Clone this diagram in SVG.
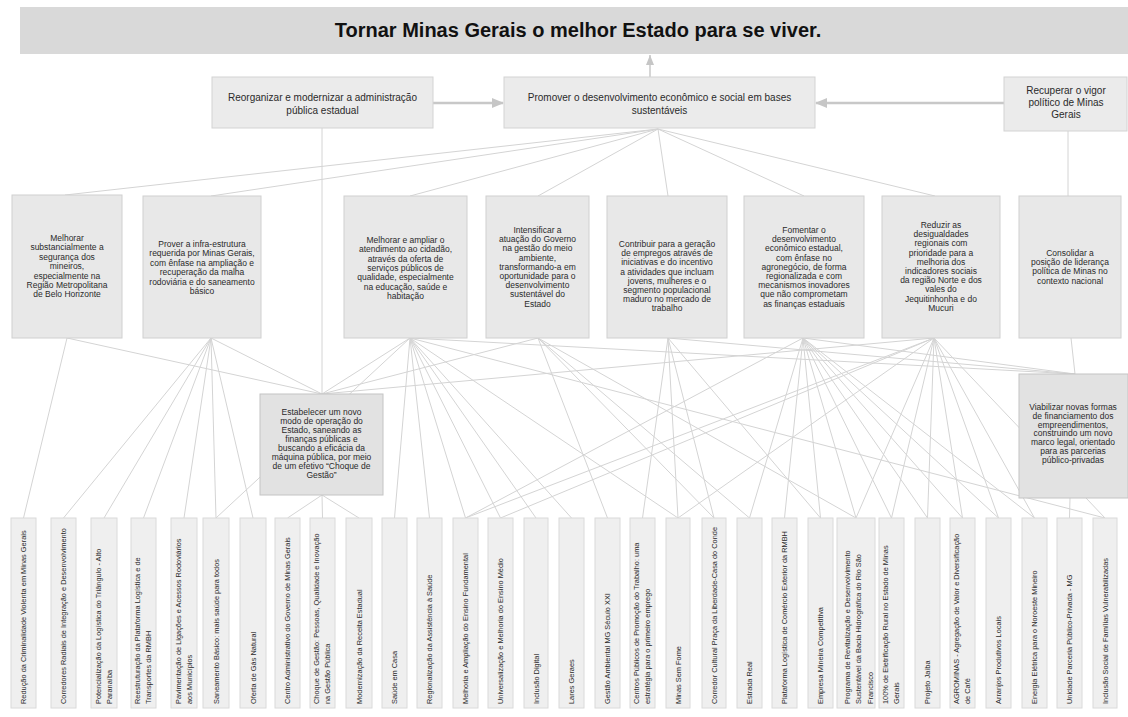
<svg xmlns="http://www.w3.org/2000/svg" width="1128" height="717" viewBox="0 0 1128 717">
<style>
text{font-family:"Liberation Sans",Arial,sans-serif;fill:#2a2a2a}
.t{font-size:8.5px;text-anchor:middle}
.t2{font-size:10px;text-anchor:middle}
.b{font-size:7.4px}
.r2{fill:#ebebeb;stroke:#d3d3d3;stroke-width:1}
.l3{fill:#e8e8e8;stroke:#d0d0d0;stroke-width:1}
.mid{fill:#e2e2e2;stroke:#c4c4c4;stroke-width:1}
.bot{fill:#efefef;stroke:#dadada;stroke-width:1}
.c line{stroke:#d4d4d4;stroke-width:1;fill:none}
</style>
<defs>
<marker id="ah" markerUnits="userSpaceOnUse" markerWidth="12" markerHeight="10" refX="11" refY="5" orient="auto"><path d="M0,0 L12,5 L0,10 z" fill="#c6c6c6"/></marker>
<marker id="ahs" markerUnits="userSpaceOnUse" markerWidth="10" markerHeight="8" refX="10" refY="4" orient="auto"><path d="M0,0 L10,4 L0,8 z" fill="#c6c6c6"/></marker>
</defs>
<rect width="1128" height="717" fill="#ffffff"/>

<g id="connectors" class="c">
<line x1="658" y1="129" x2="65" y2="195"/>
<line x1="658" y1="129" x2="211" y2="196"/>
<line x1="658" y1="129" x2="410" y2="196"/>
<line x1="658" y1="129" x2="538" y2="196"/>
<line x1="658" y1="129" x2="668" y2="196"/>
<line x1="658" y1="129" x2="804" y2="196"/>
<line x1="658" y1="129" x2="935" y2="196"/>
<line x1="1068" y1="131" x2="1068" y2="196"/>
<line x1="322" y1="128" x2="322" y2="394"/>
<line x1="67" y1="338" x2="23.5" y2="518"/>
<line x1="67" y1="338" x2="322" y2="394"/>
<line x1="211" y1="338" x2="63.5" y2="518"/>
<line x1="211" y1="338" x2="104" y2="518"/>
<line x1="211" y1="338" x2="143.5" y2="518"/>
<line x1="211" y1="338" x2="184" y2="518"/>
<line x1="211" y1="338" x2="216" y2="518"/>
<line x1="211" y1="338" x2="253" y2="518"/>
<line x1="211" y1="338" x2="322" y2="394"/>
<line x1="410" y1="338" x2="322" y2="394"/>
<line x1="410" y1="338" x2="216" y2="518"/>
<line x1="410" y1="338" x2="394.5" y2="518"/>
<line x1="410" y1="338" x2="429.5" y2="518"/>
<line x1="410" y1="338" x2="465.5" y2="518"/>
<line x1="410" y1="338" x2="500.5" y2="518"/>
<line x1="410" y1="338" x2="536" y2="518"/>
<line x1="410" y1="338" x2="571.5" y2="518"/>
<line x1="410" y1="338" x2="678" y2="518"/>
<line x1="410" y1="338" x2="1105" y2="518"/>
<line x1="410" y1="338" x2="1075" y2="374"/>
<line x1="538" y1="338" x2="322" y2="394"/>
<line x1="538" y1="338" x2="607.5" y2="518"/>
<line x1="538" y1="338" x2="714" y2="518"/>
<line x1="538" y1="338" x2="749.5" y2="518"/>
<line x1="538" y1="338" x2="856" y2="518"/>
<line x1="668" y1="338" x2="642.5" y2="518"/>
<line x1="668" y1="338" x2="678" y2="518"/>
<line x1="668" y1="338" x2="714" y2="518"/>
<line x1="668" y1="338" x2="820.5" y2="518"/>
<line x1="668" y1="338" x2="1075" y2="374"/>
<line x1="803" y1="338" x2="465.5" y2="518"/>
<line x1="803" y1="338" x2="749.5" y2="518"/>
<line x1="803" y1="338" x2="784.5" y2="518"/>
<line x1="803" y1="338" x2="820.5" y2="518"/>
<line x1="803" y1="338" x2="856" y2="518"/>
<line x1="803" y1="338" x2="891.5" y2="518"/>
<line x1="803" y1="338" x2="927.5" y2="518"/>
<line x1="803" y1="338" x2="962.5" y2="518"/>
<line x1="803" y1="338" x2="998.5" y2="518"/>
<line x1="803" y1="338" x2="1034.5" y2="518"/>
<line x1="803" y1="338" x2="1075" y2="374"/>
<line x1="934" y1="338" x2="322" y2="394"/>
<line x1="934" y1="338" x2="465.5" y2="518"/>
<line x1="934" y1="338" x2="500.5" y2="518"/>
<line x1="934" y1="338" x2="678" y2="518"/>
<line x1="934" y1="338" x2="856" y2="518"/>
<line x1="934" y1="338" x2="891.5" y2="518"/>
<line x1="934" y1="338" x2="927.5" y2="518"/>
<line x1="934" y1="338" x2="962.5" y2="518"/>
<line x1="934" y1="338" x2="998.5" y2="518"/>
<line x1="934" y1="338" x2="1034.5" y2="518"/>
<line x1="934" y1="338" x2="1105" y2="518"/>
<line x1="1071" y1="338" x2="1075" y2="374"/>
<line x1="1070" y1="498" x2="1069.5" y2="518"/>
<line x1="322" y1="495" x2="287.5" y2="518"/>
<line x1="322" y1="495" x2="322.5" y2="518"/>
<line x1="322" y1="495" x2="359" y2="518"/>
<line x1="433" y1="103" x2="503" y2="103" style="stroke:#c8c8c8;stroke-width:2.5" marker-end="url(#ah)"/>
<line x1="1004" y1="103" x2="816" y2="103" style="stroke:#c8c8c8;stroke-width:2.5" marker-end="url(#ah)"/>
<line x1="650" y1="77" x2="650" y2="55" style="stroke:#c8c8c8;stroke-width:1.5" marker-end="url(#ahs)"/>
</g>

<g id="vision">
<rect x="20" y="7" width="1108" height="47" fill="#d9d9d9"/>
<text x="578" y="37" style="font-size:20px;font-weight:bold;text-anchor:middle;fill:#111">Tornar Minas Gerais o melhor Estado para se viver.</text>
</g>

<g id="reorganizar">
<rect class="r2" x="212" y="77" width="221" height="51"/>
<text class="t2" x="322.5" y="100.5"><tspan x="322.5">Reorganizar e modernizar a administração</tspan><tspan x="322.5" dy="13">pública estadual</tspan></text>
</g>
<g id="promover">
<rect class="r2" x="504" y="77" width="311" height="51"/>
<text class="t2" x="659.5" y="100.5"><tspan x="659.5">Promover o desenvolvimento econômico e social em bases</tspan><tspan x="659.5" dy="13">sustentáveis</tspan></text>
</g>
<g id="recuperar">
<rect class="r2" x="1004" y="77" width="123" height="54"/>
<text class="t2" x="1066" y="93.5"><tspan x="1066">Recuperar o vigor</tspan><tspan x="1066" dy="12">político de Minas</tspan><tspan x="1066" dy="12">Gerais</tspan></text>
</g>

<g id="obj1">
<rect class="l3" x="12" y="195" width="110" height="143"/>
<text class="t" y="241"><tspan x="67">Melhorar</tspan><tspan x="67" dy="9.4">substancialmente a</tspan><tspan x="67" dy="9.4">segurança dos</tspan><tspan x="67" dy="9.4">mineiros,</tspan><tspan x="67" dy="9.4">especialmente na</tspan><tspan x="67" dy="9.4">Região Metropolitana</tspan><tspan x="67" dy="9.4">de Belo Horizonte</tspan></text>
</g>
<g id="obj2">
<rect class="l3" x="143" y="196" width="118" height="142"/>
<text class="t" y="247"><tspan x="202">Prover a infra-estrutura</tspan><tspan x="202" dy="9.4">requerida por Minas Gerais,</tspan><tspan x="202" dy="9.4">com ênfase na ampliação e</tspan><tspan x="202" dy="9.4">recuperação da malha</tspan><tspan x="202" dy="9.4">rodoviária e do saneamento</tspan><tspan x="202" dy="9.4">básico</tspan></text>
</g>
<g id="obj3">
<rect class="l3" x="344" y="196" width="123" height="142"/>
<text class="t" y="243"><tspan x="405.5">Melhorar e ampliar o</tspan><tspan x="405.5" dy="9.3">atendimento ao cidadão,</tspan><tspan x="405.5" dy="9.3">através da oferta de</tspan><tspan x="405.5" dy="9.3">serviços públicos de</tspan><tspan x="405.5" dy="9.3">qualidade, especialmente</tspan><tspan x="405.5" dy="9.3">na educação, saúde e</tspan><tspan x="405.5" dy="9.3">habitação</tspan></text>
</g>
<g id="obj4">
<rect class="l3" x="486" y="196" width="103" height="142"/>
<text class="t" y="233"><tspan x="537.5">Intensificar a</tspan><tspan x="537.5" dy="9.2">atuação do Governo</tspan><tspan x="537.5" dy="9.2">na gestão do meio</tspan><tspan x="537.5" dy="9.2">ambiente,</tspan><tspan x="537.5" dy="9.2">transformando-a em</tspan><tspan x="537.5" dy="9.2">oportunidade para o</tspan><tspan x="537.5" dy="9.2">desenvolvimento</tspan><tspan x="537.5" dy="9.2">sustentável do</tspan><tspan x="537.5" dy="9.2">Estado</tspan></text>
</g>
<g id="obj5">
<rect class="l3" x="607" y="196" width="120" height="142"/>
<text class="t" y="247"><tspan x="667">Contribuir para a geração</tspan><tspan x="667" dy="9.2">de empregos através de</tspan><tspan x="667" dy="9.2">iniciativas e do incentivo</tspan><tspan x="667" dy="9.2">a atividades que incluam</tspan><tspan x="667" dy="9.2">jovens, mulheres e o</tspan><tspan x="667" dy="9.2">segmento populacional</tspan><tspan x="667" dy="9.2">maduro no mercado de</tspan><tspan x="667" dy="9.2">trabalho</tspan></text>
</g>
<g id="obj6">
<rect class="l3" x="744" y="196" width="120" height="142"/>
<text class="t" y="233"><tspan x="804">Fomentar o</tspan><tspan x="804" dy="9.2">desenvolvimento</tspan><tspan x="804" dy="9.2">econômico estadual,</tspan><tspan x="804" dy="9.2">com ênfase no</tspan><tspan x="804" dy="9.2">agronegócio, de forma</tspan><tspan x="804" dy="9.2">regionalizada e com</tspan><tspan x="804" dy="9.2">mecanismos inovadores</tspan><tspan x="804" dy="9.2">que não comprometam</tspan><tspan x="804" dy="9.2">as finanças estaduais</tspan></text>
</g>
<g id="obj7">
<rect class="l3" x="882" y="196" width="118" height="142"/>
<text class="t" y="228"><tspan x="941">Reduzir as</tspan><tspan x="941" dy="9.2">desigualdades</tspan><tspan x="941" dy="9.2">regionais com</tspan><tspan x="941" dy="9.2">prioridade para a</tspan><tspan x="941" dy="9.2">melhoria dos</tspan><tspan x="941" dy="9.2">indicadores sociais</tspan><tspan x="941" dy="9.2">da região Norte e dos</tspan><tspan x="941" dy="9.2">vales do</tspan><tspan x="941" dy="9.2">Jequitinhonha e do</tspan><tspan x="941" dy="9.2">Mucuri</tspan></text>
</g>
<g id="obj8">
<rect class="l3" x="1019" y="196" width="102" height="142"/>
<text class="t" y="256"><tspan x="1070">Consolidar a</tspan><tspan x="1070" dy="9.2">posição de liderança</tspan><tspan x="1070" dy="9.2">política de Minas no</tspan><tspan x="1070" dy="9.2">contexto nacional</tspan></text>
</g>

<g id="estabelecer">
<rect class="mid" x="260" y="394" width="123" height="101"/>
<text class="t" y="415"><tspan x="321.5">Estabelecer um novo</tspan><tspan x="321.5" dy="9">modo de operação do</tspan><tspan x="321.5" dy="9">Estado, saneando as</tspan><tspan x="321.5" dy="9">finanças públicas e</tspan><tspan x="321.5" dy="9">buscando a eficácia da</tspan><tspan x="321.5" dy="9">máquina pública, por meio</tspan><tspan x="321.5" dy="9">de um efetivo “Choque de</tspan><tspan x="321.5" dy="9">Gestão”</tspan></text>
</g>
<g id="viabilizar">
<rect class="mid" x="1019" y="374" width="109" height="124"/>
<text class="t" y="410"><tspan x="1073">Viabilizar novas formas</tspan><tspan x="1073" dy="8.8">de financiamento dos</tspan><tspan x="1073" dy="8.8">empreendimentos,</tspan><tspan x="1073" dy="8.8">construindo um novo</tspan><tspan x="1073" dy="8.8">marco legal, orientado</tspan><tspan x="1073" dy="8.8">para as parcerias</tspan><tspan x="1073" dy="8.8">público-privadas</tspan></text>
</g>

<g id="p1"><rect class="bot" x="11" y="518" width="25" height="190"/><text class="b" transform="translate(26.1,704) rotate(-90)">Redução da Criminalidade Violenta em Minas Gerais</text></g>
<g id="p2"><rect class="bot" x="51" y="518" width="25" height="190"/><text class="b" transform="translate(66.1,704) rotate(-90)">Corredores Radiais de Integração e Desenvolvimento</text></g>
<g id="p3"><rect class="bot" x="91" y="518" width="26" height="190"/><text class="b" transform="translate(100.5,704) rotate(-90)"><tspan x="0">Potencialização da Logística do Triângulo - Alto</tspan><tspan x="0" dy="11">Paranaíba</tspan></text></g>
<g id="p4"><rect class="bot" x="131" y="518" width="25" height="190"/><text class="b" transform="translate(140,704) rotate(-90)"><tspan x="0">Reestruturação da Plataforma Logística e de</tspan><tspan x="0" dy="11">Transportes da RMBH</tspan></text></g>
<g id="p5"><rect class="bot" x="171" y="518" width="26" height="190"/><text class="b" transform="translate(180.5,704) rotate(-90)"><tspan x="0">Pavimentação de Ligações e Acessos Rodoviários</tspan><tspan x="0" dy="11">aos Municípios</tspan></text></g>
<g id="p6"><rect class="bot" x="203" y="518" width="26" height="190"/><text class="b" transform="translate(218.6,704) rotate(-90)">Saneamento Básico: mais saúde para todos</text></g>
<g id="p7"><rect class="bot" x="240" y="518" width="26" height="190"/><text class="b" transform="translate(255.6,704) rotate(-90)">Oferta de Gás Natural</text></g>
<g id="p8"><rect class="bot" x="275" y="518" width="25" height="190"/><text class="b" transform="translate(290.1,704) rotate(-90)">Centro Administrativo do Governo de Minas Gerais</text></g>
<g id="p9"><rect class="bot" x="310" y="518" width="25" height="190"/><text class="b" transform="translate(319,704) rotate(-90)"><tspan x="0">Choque de Gestão: Pessoas, Qualidade e Inovação</tspan><tspan x="0" dy="11">na Gestão Pública</tspan></text></g>
<g id="p10"><rect class="bot" x="346" y="518" width="26" height="190"/><text class="b" transform="translate(361.6,704) rotate(-90)">Modernização da Receita Estadual</text></g>
<g id="p11"><rect class="bot" x="382" y="518" width="25" height="190"/><text class="b" transform="translate(397.1,704) rotate(-90)">Saúde em Casa</text></g>
<g id="p12"><rect class="bot" x="417" y="518" width="25" height="190"/><text class="b" transform="translate(432.1,704) rotate(-90)">Regionalização da Assistência à Saúde</text></g>
<g id="p13"><rect class="bot" x="453" y="518" width="25" height="190"/><text class="b" transform="translate(468.1,704) rotate(-90)">Melhoria e Ampliação do Ensino Fundamental</text></g>
<g id="p14"><rect class="bot" x="488" y="518" width="25" height="190"/><text class="b" transform="translate(503.1,704) rotate(-90)">Universalização e Melhoria do Ensino Médio</text></g>
<g id="p15"><rect class="bot" x="524" y="518" width="24" height="190"/><text class="b" transform="translate(538.6,704) rotate(-90)">Inclusão Digital</text></g>
<g id="p16"><rect class="bot" x="559" y="518" width="25" height="190"/><text class="b" transform="translate(574.1,704) rotate(-90)">Lares Geraes</text></g>
<g id="p17"><rect class="bot" x="595" y="518" width="25" height="190"/><text class="b" transform="translate(610.1,704) rotate(-90)">Gestão Ambiental MG Século XXI</text></g>
<g id="p18"><rect class="bot" x="630" y="518" width="25" height="190"/><text class="b" transform="translate(639,704) rotate(-90)"><tspan x="0">Centros Públicos de Promoção do Trabalho: uma</tspan><tspan x="0" dy="11">estratégia para o primeiro emprego</tspan></text></g>
<g id="p19"><rect class="bot" x="666" y="518" width="24" height="190"/><text class="b" transform="translate(680.6,704) rotate(-90)">Minas Sem Fome</text></g>
<g id="p20"><rect class="bot" x="702" y="518" width="24" height="190"/><text class="b" transform="translate(716.6,704) rotate(-90)">Corredor Cultural Praça da Liberdade-Casa do Conde</text></g>
<g id="p21"><rect class="bot" x="737" y="518" width="25" height="190"/><text class="b" transform="translate(752.1,704) rotate(-90)">Estrada Real</text></g>
<g id="p22"><rect class="bot" x="772" y="518" width="25" height="190"/><text class="b" transform="translate(787.1,704) rotate(-90)">Plataforma Logística de Comércio Exterior da RMBH</text></g>
<g id="p23"><rect class="bot" x="808" y="518" width="25" height="190"/><text class="b" transform="translate(823.1,704) rotate(-90)">Empresa Mineira Competitiva</text></g>
<g id="p24"><rect class="bot" x="837" y="518" width="38" height="190"/><text class="b" transform="translate(849.6,704) rotate(-90)"><tspan x="0">Programa de Revitalização e Desenvolvimento</tspan><tspan x="0" dy="11.5">Sustentável da Bacia Hidrográfica do Rio São</tspan><tspan x="0" dy="11.5">Francisco</tspan></text></g>
<g id="p25"><rect class="bot" x="879" y="518" width="25" height="190"/><text class="b" transform="translate(888,704) rotate(-90)"><tspan x="0">100% de Eletrificação Rural no Estado de Minas</tspan><tspan x="0" dy="11">Gerais</tspan></text></g>
<g id="p26"><rect class="bot" x="915" y="518" width="25" height="190"/><text class="b" transform="translate(930.1,704) rotate(-90)">Projeto Jaíba</text></g>
<g id="p27"><rect class="bot" x="950" y="518" width="25" height="190"/><text class="b" transform="translate(959,704) rotate(-90)"><tspan x="0">AGROMINAS - Agregação de Valor e Diversificação</tspan><tspan x="0" dy="11">de Café</tspan></text></g>
<g id="p28"><rect class="bot" x="986" y="518" width="25" height="190"/><text class="b" transform="translate(1001.1,704) rotate(-90)">Arranjos Produtivos Locais</text></g>
<g id="p29"><rect class="bot" x="1022" y="518" width="25" height="190"/><text class="b" transform="translate(1037.1,704) rotate(-90)">Energia Elétrica para o Noroeste Mineiro</text></g>
<g id="p30"><rect class="bot" x="1057" y="518" width="25" height="190"/><text class="b" transform="translate(1072.1,704) rotate(-90)">Unidade Parceria Público-Privada - MG</text></g>
<g id="p31"><rect class="bot" x="1093" y="518" width="24" height="190"/><text class="b" transform="translate(1107.6,704) rotate(-90)">Inclusão Social de Famílias Vulnerabilizadas</text></g>
</svg>
